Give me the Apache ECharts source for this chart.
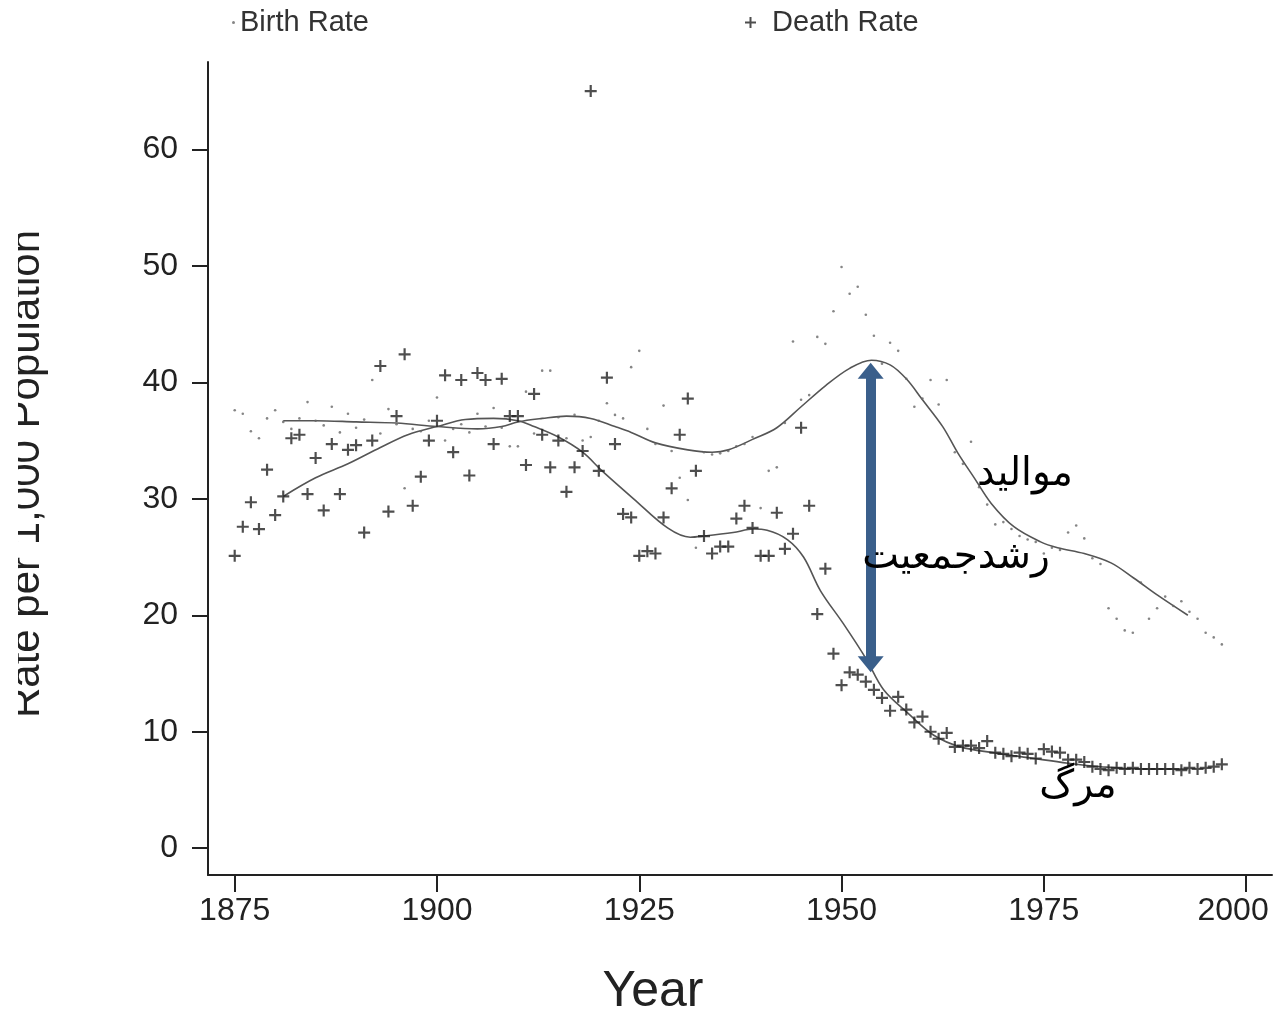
<!DOCTYPE html>
<html>
<head>
<meta charset="utf-8">
<script src="https://cdn.jsdelivr.net/npm/echarts@6/dist/echarts.min.js"></script>
<style>
  html, body { margin: 0; padding: 0; background: #fff; }
  #chart { width: 1276px; height: 1013px; }
</style>
</head>
<body>
<div id="chart"></div>
<script>
// datos anuales desde 1875
const firstYear = 1875;

const deathRate = [
  25.1, 27.6, 29.7, 27.4, 32.5, 28.6, 30.2, 35.2, 35.5, 30.4,
  33.5, 29.0, 34.7, 30.4, 34.2, 34.6, 27.1, 35.0, 41.4, 28.9,
  37.1, 42.4, 29.4, 31.9, 35.0, 36.7, 40.6, 34.0, 40.2, 32.0,
  40.8, 40.2, 34.7, 40.3, 37.1, 37.1, 32.9, 39.0, 35.5, 32.7,
  35.0, 30.6, 32.7, 34.1, 65.0, 32.4, 40.4, 34.7, 28.7, 28.4,
  25.1, 25.5, 25.3, 28.4, 30.9, 35.5, 38.6, 32.4, 26.8, 25.3,
  25.9, 25.9, 28.3, 29.4, 27.5, 25.1, 25.1, 28.8, 25.7, 27.0,
  36.1, 29.4, 20.1, 24.0, 16.7, 14.0, 15.1, 14.9, 14.3, 13.6,
  12.9, 11.8, 13.0, 11.9, 10.8, 11.3, 10.0, 9.4, 9.9, 8.7,
  8.8, 8.8, 8.6, 9.2, 8.2, 8.1, 7.9, 8.2, 8.1, 7.7,
  8.5, 8.3, 8.2, 7.6, 7.6, 7.4, 7.0, 6.8, 6.7, 6.9,
  6.8, 6.9, 6.8, 6.8, 6.8, 6.8, 6.8, 6.7, 6.9, 6.8,
  6.9, 7.0, 7.2
];

const birthRate = [
  37.6, 37.3, 35.8, 35.2, 36.9, 37.6, 36.6, 36.0, 36.9, 38.3,
  36.7, 36.3, 37.9, 35.7, 37.3, 36.1, 36.8, 40.2, 35.6, 37.7,
  36.4, 30.9, 36.0, 35.8, 36.7, 38.7, 35.0, 36.0, 36.4, 35.7,
  37.3, 36.2, 37.8, 36.1, 34.5, 34.5, 39.2, 35.6, 41.0, 41.0,
  37.0, 35.2, 37.2, 35.0, 35.3, 36.7, 38.2, 37.2, 36.9, 41.3,
  42.7, 36.0, 34.7, 38.0, 34.1, 31.8, 29.9, 25.8, 34.0, 33.8,
  33.9, 34.1, 34.5, 34.7, 35.3, 29.2, 32.4, 32.7, 36.5, 43.5,
  38.5, 38.9, 43.9, 43.3, 46.1, 49.9, 47.6, 48.2, 45.8, 44.0,
  41.6, 43.4, 42.7, 40.3, 37.9, 38.6, 40.2, 38.1, 40.2, 34.0,
  33.0, 34.9, 31.0, 29.5, 27.8, 28.0, 27.4, 26.8, 26.5, 26.3,
  25.3, 25.8, 25.6, 27.1, 27.7, 26.6, 24.9, 24.4, 20.6, 19.7,
  18.7, 18.5, 22.8, 19.7, 20.6, 21.6, 20.8, 21.2, 20.3, 19.7,
  18.5, 18.1, 17.5
];

// curvas suavizadas
const birthTrendYears = [1881, 1885, 1890, 1895, 1900, 1905, 1908, 1910, 1913, 1916,
  1919, 1922, 1924, 1927, 1931, 1934, 1936, 1939, 1942, 1945,
  1948, 1951, 1953.7, 1956, 1958, 1960, 1962.5, 1964.4, 1966.4, 1968.5,
  1971.3, 1974.6, 1976.7, 1980, 1983.3, 1986.1, 1989.1, 1992.8];
const birthTrend = [36.7, 36.7, 36.6, 36.5, 36.2, 36.0, 36.2, 36.6, 36.9, 37.1,
  36.9, 36.2, 35.7, 34.8, 34.2, 34.0, 34.2, 35.1, 36.1, 37.9,
  39.7, 41.2, 41.9, 41.5, 40.3, 38.5, 36.2, 33.9, 31.8, 29.6,
  27.6, 26.3, 25.8, 25.3, 24.5, 23.2, 21.7, 20.0];

const deathTrendYears = [1881, 1885, 1889, 1893, 1896.4, 1900, 1903.5, 1907, 1910, 1912,
  1915, 1918, 1920.4, 1924.3, 1928.5, 1931.3, 1933, 1936.6, 1939.1, 1940.8,
  1943.3, 1945.3, 1947.4, 1950.2, 1953, 1955.2, 1958.2, 1961.4, 1964.7, 1968.8,
  1973.8, 1978, 1982, 1987, 1992.8];
const deathTrend = [30.2, 31.8, 33.0, 34.4, 35.5, 36.2, 36.8, 36.9, 36.7, 36.2,
  35.3, 34.0, 32.4, 30.0, 27.5, 26.7, 26.8, 27.1, 27.4, 27.3,
  26.5, 25.0, 22.1, 19.3, 16.3, 13.6, 11.6, 9.7, 8.7, 8.2,
  7.7, 7.3, 7.0, 6.8, 6.8];

// flecha de crecimiento: [anio, tope, base]
const growthArrow = [1953.6, 41.0, 15.8];

const xTicks = [1875, 1900, 1925, 1950, 1975, 2000];
const yTicks = [0, 10, 20, 30, 40, 50, 60];

const font = '"Liberation Sans", Arial, "DejaVu Sans", sans-serif';
const plusPath = 'path://M0,4.5H4.5V0H6.5V4.5H11V6.5H6.5V11H4.5V6.5H0Z';

const pair = (xs, ys) => ys.map((v, i) => [xs[i], v]);
const annual = (vals) => vals.map((v, i) => [firstYear + i, v]);

const chart = echarts.init(document.getElementById('chart'));

const option = {
  animation: false,
  backgroundColor: '#fff',
  grid: { left: 208, right: 4, top: 62, bottom: 138, outerBoundsMode: 'none', containLabel: false },
  legend: [
    {
      data: ['Birth Rate'], left: 227, top: 3, selectedMode: false,
      itemWidth: 3, itemHeight: 3,
      textStyle: { fontSize: 29, color: '#333', fontFamily: font }
    },
    {
      data: ['Death Rate'], left: 740, top: 3, selectedMode: false,
      itemWidth: 11, itemHeight: 11,
      textStyle: { fontSize: 29, color: '#333', fontFamily: font, padding: [0, 0, 0, 11] }
    }
  ],
  xAxis: {
    type: 'value',
    min: 1871.7,
    max: 2003.2,
    name: 'Year',
    nameLocation: 'middle',
    nameGap: 92,
    nameTextStyle: { fontSize: 50, color: '#222', fontFamily: font, padding: [0, 174, 0, 0] },
    axisLine: { show: true, onZero: false, lineStyle: { color: '#222', width: 2 } },
    axisTick: { show: true, length: 17, lineStyle: { color: '#222', width: 2 }, customValues: xTicks },
    axisLabel: {
      fontSize: 32, color: '#222', fontFamily: font, margin: 20, customValues: xTicks,
      formatter: (v) => {
        const t = String(Math.round(v));
        return t === '2000' ? '{last|' + t + '}' : t;
      },
      rich: { last: { fontSize: 32, color: '#222', fontFamily: font, padding: [0, 26, 0, 0] } }
    },
    splitLine: { show: false }
  },
  yAxis: {
    type: 'value',
    min: -2.3,
    max: 67.5,
    axisLine: { show: true, onZero: false, lineStyle: { color: '#222', width: 2 } },
    axisTick: { show: true, length: 16, lineStyle: { color: '#222', width: 2 }, customValues: yTicks },
    axisLabel: { fontSize: 32, color: '#222', fontFamily: font, margin: 30, customValues: yTicks },
    splitLine: { show: false }
  },
  series: [
    {
      name: 'Birth Rate',
      type: 'scatter',
      symbol: 'circle',
      symbolSize: 2.6,
      itemStyle: { color: '#666' },
      data: annual(birthRate),
      z: 3
    },
    {
      name: 'Death Rate',
      type: 'scatter',
      symbol: plusPath,
      symbolSize: 12,
      itemStyle: { color: '#222' },
      data: annual(deathRate),
      z: 3
    },
    {
      name: 'Birth Trend',
      type: 'line',
      smooth: 0.35,
      showSymbol: false,
      lineStyle: { color: '#555', width: 1.6 },
      data: pair(birthTrendYears, birthTrend),
      z: 2
    },
    {
      name: 'Death Trend',
      type: 'line',
      smooth: 0.35,
      showSymbol: false,
      lineStyle: { color: '#555', width: 1.6 },
      data: pair(deathTrendYears, deathTrend),
      z: 2,
      markLine: {
        silent: true,
        symbol: ['triangle', 'triangle'],
        symbolSize: [26, 16],
        label: { show: false },
        lineStyle: { color: '#3a5f8b', width: 10, type: 'solid', opacity: 1 },
        emphasis: { disabled: true },
        data: [[
          { coord: [growthArrow[0], growthArrow[1]] },
          { coord: [growthArrow[0], growthArrow[2]] }
        ]],
        z: 10
      }
    }
  ],
  graphic: [
    {
      type: 'text', x: 27, y: 474, rotation: Math.PI / 2, z: 1,
      style: { text: 'Rate per 1,000 Population', font: '42px ' + font, fill: '#222', align: 'center', verticalAlign: 'middle' }
    },
    { type: 'rect', shape: { x: 0, y: 150, width: 18, height: 650 }, style: { fill: '#fff' }, z: 5 },
    {
      type: 'text', x: 1025, y: 474, z: 20,
      style: { text: 'مواليد', font: '39px ' + font, fill: '#000', align: 'center', verticalAlign: 'middle' }
    },
    {
      type: 'text', x: 956, y: 557, z: 20,
      style: { text: 'رشدجمعیت', font: '39px ' + font, fill: '#000', align: 'center', verticalAlign: 'middle' }
    },
    {
      type: 'text', x: 1078, y: 786, z: 20,
      style: { text: 'مرگ', font: '39px ' + font, fill: '#000', align: 'center', verticalAlign: 'middle' }
    }
  ]
};

chart.setOption(option);
</script>
</body>
</html>
